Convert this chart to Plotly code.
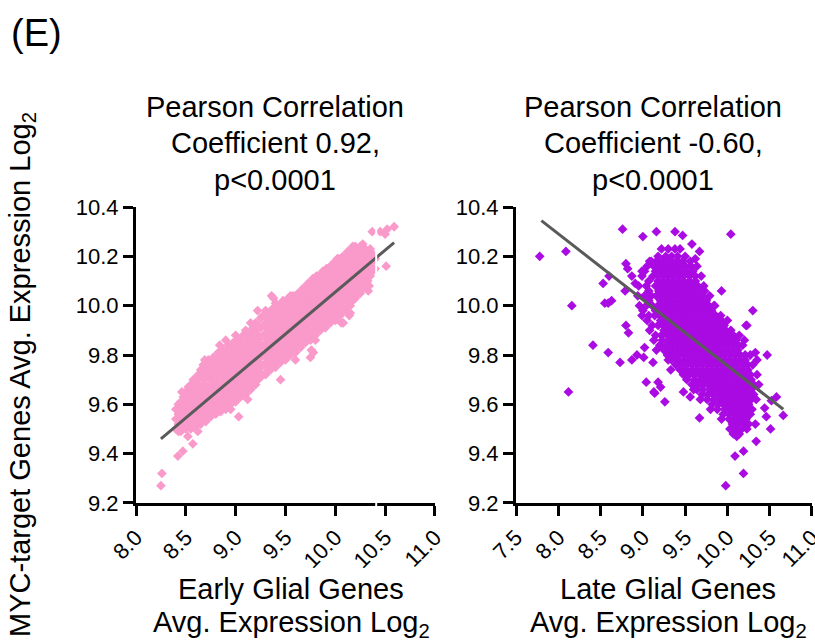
import plotly.graph_objects as go

# ---------------- data ----------------
# Early glial panel: dense core listed column by column (x, [y values]) plus scattered points
early_columns = [
    (8.40, [9.50, 9.54, 9.58]),
    (8.425, [9.49, 9.52, 9.56, 9.60]),
    (8.45, [9.49, 9.53, 9.57, 9.61]),
    (8.475, [9.51, 9.55, 9.59, 9.63]),
    (8.50, [9.50, 9.54, 9.58, 9.62, 9.65]),
    (8.525, [9.52, 9.56, 9.60, 9.64, 9.67]),
    (8.55, [9.50, 9.53, 9.57, 9.61, 9.64, 9.68]),
    (8.575, [9.52, 9.55, 9.59, 9.63, 9.66, 9.70]),
    (8.60, [9.51, 9.55, 9.59, 9.62, 9.66, 9.70]),
    (8.625, [9.53, 9.57, 9.61, 9.64, 9.68, 9.72]),
    (8.65, [9.52, 9.56, 9.60, 9.64, 9.67, 9.71, 9.74]),
    (8.675, [9.54, 9.58, 9.62, 9.66, 9.70, 9.73, 9.76]),
    (8.70, [9.53, 9.57, 9.61, 9.65, 9.68, 9.72, 9.76]),
    (8.725, [9.55, 9.59, 9.63, 9.67, 9.71, 9.74, 9.78]),
    (8.75, [9.55, 9.58, 9.62, 9.66, 9.70, 9.73, 9.77]),
    (8.775, [9.57, 9.60, 9.64, 9.68, 9.72, 9.75, 9.79]),
    (8.80, [9.56, 9.59, 9.63, 9.67, 9.71, 9.75, 9.79]),
    (8.825, [9.58, 9.61, 9.65, 9.69, 9.73, 9.77, 9.81]),
    (8.85, [9.57, 9.61, 9.65, 9.69, 9.72, 9.76, 9.80]),
    (8.875, [9.59, 9.63, 9.67, 9.71, 9.74, 9.78, 9.82]),
    (8.90, [9.58, 9.62, 9.66, 9.70, 9.74, 9.78, 9.82]),
    (8.925, [9.60, 9.64, 9.68, 9.72, 9.76, 9.80, 9.84]),
    (8.95, [9.60, 9.64, 9.67, 9.71, 9.75, 9.79, 9.83]),
    (8.975, [9.62, 9.66, 9.69, 9.73, 9.77, 9.81, 9.85]),
    (9.00, [9.61, 9.65, 9.69, 9.73, 9.76, 9.80, 9.84]),
    (9.025, [9.63, 9.67, 9.71, 9.75, 9.78, 9.82, 9.86]),
    (9.05, [9.63, 9.66, 9.70, 9.74, 9.78, 9.82, 9.86]),
    (9.075, [9.65, 9.68, 9.72, 9.76, 9.80, 9.84, 9.88]),
    (9.10, [9.64, 9.68, 9.72, 9.75, 9.79, 9.83, 9.87, 9.90]),
    (9.125, [9.66, 9.70, 9.74, 9.77, 9.81, 9.85, 9.89]),
    (9.15, [9.66, 9.70, 9.73, 9.77, 9.81, 9.85, 9.89]),
    (9.175, [9.68, 9.72, 9.75, 9.79, 9.83, 9.87, 9.91]),
    (9.20, [9.68, 9.71, 9.75, 9.79, 9.83, 9.86, 9.90, 9.93]),
    (9.225, [9.70, 9.73, 9.77, 9.81, 9.85, 9.88, 9.92]),
    (9.25, [9.71, 9.75, 9.79, 9.83, 9.87, 9.91, 9.95]),
    (9.275, [9.72, 9.76, 9.80, 9.84, 9.88, 9.92, 9.96]),
    (9.30, [9.72, 9.76, 9.80, 9.84, 9.87, 9.91, 9.95, 9.98]),
    (9.325, [9.74, 9.78, 9.82, 9.86, 9.89, 9.93, 9.97]),
    (9.35, [9.74, 9.77, 9.81, 9.85, 9.89, 9.93, 9.97]),
    (9.375, [9.76, 9.79, 9.83, 9.87, 9.91, 9.95, 9.99]),
    (9.40, [9.75, 9.79, 9.83, 9.87, 9.90, 9.94, 9.98, 10.01]),
    (9.425, [9.77, 9.81, 9.85, 9.89, 9.92, 9.96, 10.00]),
    (9.45, [9.77, 9.80, 9.84, 9.88, 9.92, 9.96, 10.00]),
    (9.475, [9.79, 9.82, 9.86, 9.90, 9.94, 9.98, 10.02]),
    (9.50, [9.78, 9.82, 9.86, 9.90, 9.93, 9.97, 10.01]),
    (9.525, [9.80, 9.84, 9.88, 9.92, 9.95, 9.99, 10.03]),
    (9.55, [9.80, 9.83, 9.87, 9.91, 9.95, 9.99, 10.02]),
    (9.575, [9.82, 9.85, 9.89, 9.93, 9.97, 10.01, 10.04]),
    (9.60, [9.81, 9.85, 9.89, 9.93, 9.96, 10.00, 10.04]),
    (9.625, [9.83, 9.87, 9.91, 9.95, 9.98, 10.02, 10.05]),
    (9.65, [9.83, 9.87, 9.91, 9.94, 9.98, 10.02, 10.05]),
    (9.675, [9.85, 9.89, 9.93, 9.96, 10.00, 10.04, 10.07]),
    (9.70, [9.85, 9.88, 9.92, 9.96, 10.00, 10.03, 10.07]),
    (9.725, [9.87, 9.90, 9.94, 9.98, 10.02, 10.05, 10.09]),
    (9.75, [9.86, 9.90, 9.94, 9.98, 10.01, 10.05, 10.09]),
    (9.775, [9.88, 9.92, 9.96, 10.00, 10.03, 10.07, 10.11]),
    (9.80, [9.88, 9.92, 9.96, 9.99, 10.03, 10.07, 10.10]),
    (9.825, [9.90, 9.94, 9.98, 10.01, 10.05, 10.09, 10.12]),
    (9.85, [9.90, 9.93, 9.97, 10.01, 10.05, 10.08, 10.12]),
    (9.875, [9.92, 9.95, 9.99, 10.03, 10.07, 10.10, 10.14]),
    (9.90, [9.91, 9.95, 9.99, 10.02, 10.06, 10.10, 10.13]),
    (9.925, [9.93, 9.97, 10.01, 10.04, 10.08, 10.12, 10.15]),
    (9.95, [9.93, 9.96, 10.00, 10.04, 10.08, 10.11, 10.15]),
    (9.975, [9.95, 9.98, 10.02, 10.06, 10.10, 10.13, 10.17]),
    (10.00, [9.94, 9.98, 10.02, 10.06, 10.09, 10.13, 10.17]),
    (10.025, [9.96, 10.00, 10.04, 10.08, 10.11, 10.15, 10.19]),
    (10.05, [9.96, 10.00, 10.04, 10.07, 10.11, 10.15, 10.18]),
    (10.075, [9.98, 10.02, 10.06, 10.09, 10.13, 10.17, 10.20]),
    (10.10, [9.98, 10.02, 10.05, 10.09, 10.13, 10.17, 10.20]),
    (10.125, [10.00, 10.04, 10.07, 10.11, 10.15, 10.19, 10.22]),
    (10.15, [10.00, 10.04, 10.08, 10.11, 10.15, 10.19, 10.22]),
    (10.175, [10.02, 10.06, 10.10, 10.13, 10.17, 10.21, 10.24]),
    (10.20, [10.03, 10.06, 10.10, 10.14, 10.18, 10.22, 10.24]),
    (10.225, [10.05, 10.08, 10.12, 10.16, 10.20, 10.23]),
    (10.25, [10.05, 10.09, 10.13, 10.17, 10.21, 10.24]),
    (10.275, [10.07, 10.11, 10.15, 10.19, 10.22, 10.25]),
    (10.30, [10.08, 10.12, 10.16, 10.20, 10.23]),
    (10.325, [10.10, 10.14, 10.18, 10.22]),
    (10.35, [10.12, 10.16, 10.20, 10.23]),
    (10.375, [10.14, 10.18, 10.21]),
    (10.40, [10.15, 10.19]),
]
early_scattered = [
    (8.25, 9.27), (8.26, 9.32), (8.42, 9.39), (8.47, 9.41), (8.52, 9.47), (8.57, 9.44),
    (8.46, 9.65), (8.52, 9.62), (8.69, 9.78), (8.84, 9.84), (9.00, 9.88), (9.03, 9.55),
    (9.22, 9.98), (9.36, 10.04), (9.38, 10.03), (9.45, 9.70), (9.55, 10.04), (9.73, 10.08),
    (9.75, 9.79), (9.76, 9.82), (9.78, 9.81), (9.80, 9.86), (9.81, 10.12), (9.91, 10.15),
    (9.93, 10.15), (10.02, 10.19), (10.03, 10.19), (10.06, 9.93), (10.08, 9.93), (10.14, 9.96),
    (10.15, 9.97), (10.22, 10.05), (10.33, 10.06), (10.34, 10.08), (10.51, 10.16),
    (10.37, 10.30), (10.45, 10.30), (10.50, 10.29), (10.52, 10.31), (10.59, 10.32),
    (8.62, 9.49), (8.95, 9.58), (9.12, 9.62), (9.60, 9.78), (8.90, 9.86), (9.15, 9.93),
]
early_fit_x = [8.25, 10.59]
early_fit_y = [9.46, 10.256]

# Late glial panel: dense core listed row by row (y, [x values]) plus scattered points
late_rows = [
    (10.23, [9.22, 9.30, 9.38, 9.44]),
    (10.20, [9.18, 9.27, 9.34, 9.41, 9.50]),
    (10.18, [9.10, 9.16, 9.23, 9.29, 9.35, 9.41, 9.47, 9.56]),
    (10.16, [9.05, 9.13, 9.19, 9.25, 9.31, 9.37, 9.43, 9.50, 9.57, 9.64]),
    (10.14, [9.02, 9.15, 9.21, 9.27, 9.33, 9.39, 9.45, 9.52, 9.59]),
    (10.12, [8.99, 9.12, 9.18, 9.24, 9.30, 9.36, 9.42, 9.48, 9.55, 9.62, 9.69]),
    (10.10, [9.07, 9.18, 9.24, 9.30, 9.36, 9.42, 9.48, 9.55, 9.62]),
    (10.08, [8.95, 9.04, 9.15, 9.21, 9.27, 9.33, 9.39, 9.45, 9.51, 9.58, 9.65, 9.72]),
    (10.06, [9.07, 9.19, 9.25, 9.31, 9.37, 9.43, 9.49, 9.55, 9.61, 9.67, 9.73]),
    (10.04, [8.94, 9.02, 9.10, 9.16, 9.22, 9.28, 9.34, 9.40, 9.46, 9.52, 9.58, 9.64, 9.70, 9.79]),
    (10.02, [9.07, 9.21, 9.27, 9.33, 9.39, 9.45, 9.51, 9.57, 9.63, 9.69, 9.75]),
    (10.00, [8.96, 9.04, 9.11, 9.18, 9.24, 9.30, 9.36, 9.42, 9.48, 9.54, 9.60, 9.66, 9.72, 9.78, 9.84]),
    (9.98, [9.00, 9.15, 9.21, 9.27, 9.33, 9.39, 9.45, 9.51, 9.57, 9.63, 9.69, 9.75, 9.81]),
    (9.96, [9.07, 9.14, 9.20, 9.26, 9.32, 9.38, 9.44, 9.50, 9.56, 9.62, 9.68, 9.74, 9.80, 9.86, 9.92]),
    (9.94, [9.05, 9.21, 9.27, 9.33, 9.39, 9.45, 9.51, 9.57, 9.63, 9.69, 9.75, 9.81, 9.87, 9.93, 10.00]),
    (9.92, [9.11, 9.18, 9.24, 9.30, 9.36, 9.42, 9.48, 9.54, 9.60, 9.66, 9.72, 9.78, 9.84, 9.90, 9.96]),
    (9.90, [9.08, 9.25, 9.32, 9.38, 9.44, 9.50, 9.56, 9.62, 9.68, 9.74, 9.80, 9.86, 9.92, 9.98, 10.04]),
    (9.88, [9.15, 9.22, 9.29, 9.35, 9.41, 9.47, 9.53, 9.59, 9.65, 9.71, 9.77, 9.83, 9.89, 9.95, 10.01, 10.07, 10.14]),
    (9.86, [9.13, 9.23, 9.31, 9.38, 9.44, 9.50, 9.56, 9.62, 9.68, 9.74, 9.80, 9.86, 9.92, 9.98, 10.04, 10.10]),
    (9.84, [9.20, 9.28, 9.35, 9.41, 9.47, 9.53, 9.59, 9.65, 9.71, 9.77, 9.83, 9.89, 9.95, 10.01, 10.07, 10.13, 10.18]),
    (9.82, [9.16, 9.25, 9.33, 9.40, 9.46, 9.52, 9.58, 9.64, 9.70, 9.76, 9.82, 9.88, 9.94, 10.00, 10.06, 10.12]),
    (9.80, [9.29, 9.37, 9.43, 9.49, 9.55, 9.61, 9.67, 9.73, 9.79, 9.85, 9.91, 9.97, 10.03, 10.09, 10.15, 10.21, 10.27]),
    (9.78, [9.30, 9.34, 9.42, 9.49, 9.55, 9.61, 9.67, 9.73, 9.79, 9.85, 9.91, 9.97, 10.03, 10.09, 10.15, 10.21]),
    (9.76, [9.39, 9.46, 9.52, 9.58, 9.64, 9.70, 9.76, 9.82, 9.88, 9.94, 10.00, 10.06, 10.12, 10.18, 10.24, 10.30]),
    (9.74, [9.33, 9.44, 9.51, 9.58, 9.64, 9.70, 9.76, 9.82, 9.88, 9.94, 10.00, 10.06, 10.12, 10.18, 10.24]),
    (9.72, [9.48, 9.55, 9.61, 9.67, 9.73, 9.79, 9.85, 9.91, 9.97, 10.03, 10.09, 10.15, 10.21, 10.27, 10.35]),
    (9.70, [9.52, 9.61, 9.68, 9.74, 9.80, 9.86, 9.92, 9.98, 10.04, 10.10, 10.16, 10.22, 10.28]),
    (9.68, [9.58, 9.65, 9.71, 9.77, 9.83, 9.89, 9.95, 10.01, 10.07, 10.13, 10.19, 10.25, 10.31, 10.37]),
    (9.66, [9.60, 9.64, 9.71, 9.80, 9.86, 9.92, 9.98, 10.04, 10.10, 10.16, 10.22, 10.28]),
    (9.64, [9.70, 9.77, 9.83, 9.89, 9.95, 10.01, 10.07, 10.13, 10.19, 10.25, 10.31]),
    (9.62, [9.68, 9.76, 9.84, 9.92, 9.98, 10.04, 10.10, 10.16, 10.22, 10.28, 10.34]),
    (9.60, [9.82, 9.89, 9.95, 10.01, 10.07, 10.13, 10.19, 10.25]),
    (9.58, [9.80, 9.88, 9.97, 10.05, 10.11, 10.17, 10.23, 10.29]),
    (9.56, [9.95, 10.02, 10.08, 10.14, 10.20, 10.26]),
    (9.54, [9.93, 10.02, 10.09, 10.16, 10.22]),
    (9.52, [10.06, 10.13, 10.19, 10.25]),
    (9.50, [10.03, 10.10, 10.17, 10.23]),
    (9.48, [10.07, 10.14]),
]
late_scattered = [
    (7.78, 10.20), (8.09, 10.22), (8.16, 10.00), (8.12, 9.65), (8.41, 9.84), (8.53, 10.09),
    (8.55, 10.01), (8.59, 10.01), (8.60, 10.12), (8.63, 10.02), (8.59, 9.81), (8.73, 9.77),
    (8.76, 10.31), (8.79, 10.06), (8.80, 10.17), (8.82, 10.15), (8.87, 10.12), (8.91, 10.09),
    (8.99, 10.14), (9.08, 10.18), (8.80, 9.92), (8.83, 9.89), (8.99, 9.96), (8.87, 9.78),
    (8.93, 9.80), (9.01, 9.79), (9.02, 9.83), (9.12, 9.77), (9.04, 9.69), (9.13, 9.65),
    (9.18, 9.69), (9.21, 9.67), (9.26, 9.61), (9.14, 9.645), (9.00, 10.28), (9.16, 10.30),
    (9.38, 10.30), (9.47, 10.285), (9.67, 10.22), (10.04, 10.29), (9.48, 9.65), (9.56, 9.63),
    (9.67, 9.545), (9.93, 10.06), (10.30, 9.98), (10.22, 9.92), (10.23, 9.92), (10.33, 9.81),
    (10.35, 9.78), (10.47, 9.80), (10.33, 9.52), (10.27, 9.56), (10.15, 9.51), (10.11, 9.47),
    (10.34, 9.45), (10.19, 9.41), (10.09, 9.39), (10.19, 9.32), (9.98, 9.27), (10.51, 9.50),
    (10.44, 9.585), (10.46, 9.55), (10.52, 9.615), (10.58, 9.63), (10.66, 9.555),
    (9.58, 10.25), (9.62, 10.19), (9.85, 10.00), (10.20, 9.86),
]
late_fit_x = [7.80, 10.66]
late_fit_y = [10.345, 9.58]

x_ticks_early = [8.0, 8.5, 9.0, 9.5, 10.0, 10.5, 11.0]
x_ticks_late = [7.5, 8.0, 8.5, 9.0, 9.5, 10.0, 10.5, 11.0]
y_ticks = [9.2, 9.4, 9.6, 9.8, 10.0, 10.2, 10.4]

# ---------------- assemble ----------------
early_x = [c[0] for c in early_columns for _ in c[1]] + [p[0] for p in early_scattered]
early_y = [v for c in early_columns for v in c[1]] + [p[1] for p in early_scattered]
late_x = [v for r in late_rows for v in r[1]] + [p[0] for p in late_scattered]
late_y = [r[0] for r in late_rows for _ in r[1]] + [p[1] for p in late_scattered]

PINK = "#F99ACB"
PURPLE = "#AA0BE2"
FIT = "#5A5A5A"
FONT = "Liberation Sans, Arial, sans-serif"
W, H = 815, 643
MSIZE = 7.5

fig = go.Figure()
fig.add_trace(go.Scatter(x=early_x, y=early_y, mode="markers", xaxis="x", yaxis="y",
                         marker=dict(symbol="diamond", size=MSIZE, color=PINK, line=dict(width=0)),
                         showlegend=False, cliponaxis=False))
fig.add_trace(go.Scatter(x=early_fit_x, y=early_fit_y, mode="lines", xaxis="x", yaxis="y",
                         line=dict(color=FIT, width=3), showlegend=False))
fig.add_trace(go.Scatter(x=late_x, y=late_y, mode="markers", xaxis="x2", yaxis="y2",
                         marker=dict(symbol="diamond", size=MSIZE, color=PURPLE, line=dict(width=0)),
                         showlegend=False, cliponaxis=False))
fig.add_trace(go.Scatter(x=late_fit_x, y=late_fit_y, mode="lines", xaxis="x2", yaxis="y2",
                         line=dict(color=FIT, width=3), showlegend=False))

axis_common = dict(showline=True, linecolor="black", linewidth=3, ticks="outside",
                   ticklen=10, tickwidth=3, tickcolor="black", showgrid=False,
                   zeroline=False, automargin=False, ticklabeloverflow="allow",
                   tickfont=dict(size=22, color="black", family=FONT),
                   tickformat=".1f")
ydom = [1 - 503 / H, 1 - 207 / H]

fig.update_layout(
    template="none",
    width=W, height=H,
    margin=dict(l=0, r=0, t=0, b=0, pad=0, autoexpand=False),
    paper_bgcolor="white", plot_bgcolor="white",
    font=dict(family=FONT, color="black"),
    xaxis=dict(domain=[136 / W, 435 / W], range=[7.9999, 11.0001], tickvals=x_ticks_early,
               tickangle=-45, anchor="y", **axis_common),
    yaxis=dict(domain=ydom, range=[9.1999, 10.4001], tickvals=y_ticks, anchor="x", **axis_common),
    xaxis2=dict(domain=[516 / W, 812 / W], range=[7.4999, 11.0001], tickvals=x_ticks_late,
                tickangle=-45, anchor="y2", **axis_common),
    yaxis2=dict(domain=ydom, range=[9.1999, 10.4001], tickvals=y_ticks, anchor="x2", **axis_common),
)

def ann(text, x, y, size, angle=0):
    fig.add_annotation(text=text, x=x / W, y=1 - y / H, xref="paper", yref="paper",
                       showarrow=False, textangle=angle, xanchor="center", yanchor="middle",
                       font=dict(size=size, color="black", family=FONT))

ann("(E)", 36, 33, 38)
for txt, yy in [("Pearson Correlation", 107), ("Coefficient 0.92,", 143), ("p<0.0001", 180)]:
    ann(txt, 275, yy, 29)
for txt, yy in [("Pearson Correlation", 107), ("Coefficient -0.60,", 143), ("p<0.0001", 180)]:
    ann(txt, 653, yy, 29)
ann("Early Glial Genes", 291, 589, 29)
ann("Avg. Expression Log<sub>2</sub>", 291, 624, 29)
ann("Late Glial Genes", 668, 589, 29)
ann("Avg. Expression Log<sub>2</sub>", 668, 624, 29)
ann("MYC-target Genes Avg. Expression Log<sub>2</sub>", 22, 375, 29, angle=-90)

# thin white gap visible in the left panel near x = 10.41
fig.add_shape(type="line", xref="x", yref="paper", x0=10.41, x1=10.41,
              y0=1 - 512 / H, y1=1 - 225 / H, line=dict(color="white", width=2), layer="above")

fig.write_html("out.html", post_script="document.body.style.margin='0';",
               config={"displayModeBar": False})
